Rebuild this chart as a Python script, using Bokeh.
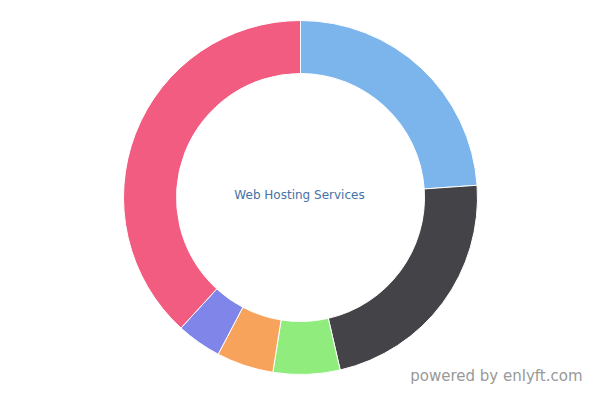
import numpy as np
from bokeh.plotting import figure
from bokeh.models import Range1d, ColumnDataSource
from bokeh.core.properties import value
from bokeh.embed import file_html
from bokeh.resources import INLINE

# Data (percent shares, clockwise from top)
categories = ["Segment A", "Segment B", "Segment C", "Segment D", "Segment E", "Segment F"]
shares = [23.9, 22.5, 6.1, 5.2, 4.1, 38.2]
colors = ["#7cb5ec", "#434348", "#90ed7d", "#f7a35c", "#8085e9", "#f15c80"]
center_label = "Web Hosting Services"
credits_label = "powered by enlyft.com"

W, H = 584, 384
p = figure(width=W, height=H, output_backend="svg", toolbar_location=None,
           x_range=Range1d(0, W), y_range=Range1d(0, H), min_border=0)
p.axis.visible = False
p.grid.visible = False
p.outline_line_color = None
p.background_fill_color = "white"
p.border_fill_color = "white"

vals = np.array(shares, dtype=float)
frac = vals / vals.sum()
cum_end = np.cumsum(frac)
cum_start = cum_end - frac
start = np.pi / 2 - cum_start * 2 * np.pi
end = np.pi / 2 - cum_end * 2 * np.pi

cx, cy = 300, 187
src = ColumnDataSource(dict(cat=categories, start=start, end=end, color=colors))
p.annular_wedge(x=cx, y=cy, inner_radius=124, outer_radius=177,
                start_angle="start", end_angle="end", direction="clock",
                fill_color="color", line_color="white", line_width=1, source=src)

p.text(x=[299], y=[190], text=[center_label], text_font=value("DejaVu Sans"),
       text_font_size="12px", text_color="#4572a7", text_align="center",
       text_baseline="alphabetic")
p.text(x=[582], y=[9], text=[credits_label], text_font=value("DejaVu Sans"),
       text_font_size="15px", text_color="#999999", text_align="right",
       text_baseline="alphabetic")

open("out.html", "w").write(file_html(p, INLINE))
